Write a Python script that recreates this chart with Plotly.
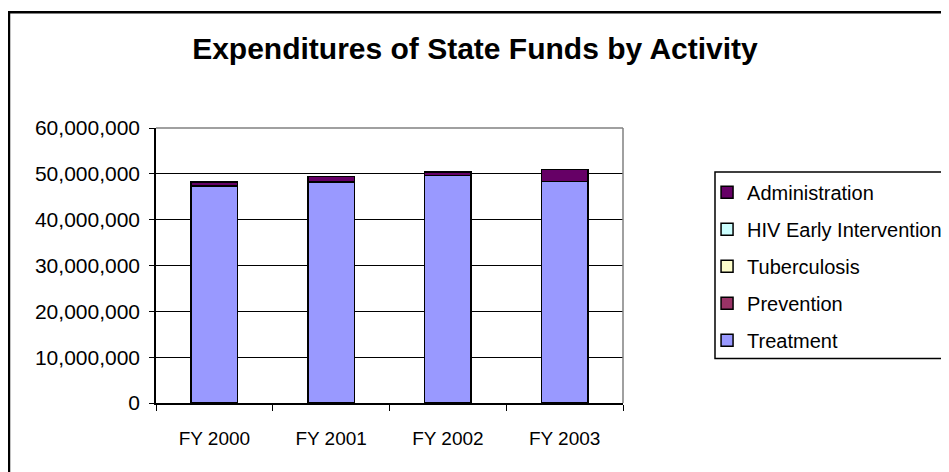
import plotly.graph_objects as go

# data
years = ['FY 2000', 'FY 2001', 'FY 2002', 'FY 2003']
treatment = [47400000, 48200000, 49600000, 48300000]
prevention = [0, 0, 0, 0]
tuberculosis = [0, 0, 0, 0]
hiv_early = [0, 0, 0, 0]
administration = [850000, 1250000, 850000, 2700000]

series = [
    ('Treatment', treatment, '#9999FF'),
    ('Prevention', prevention, '#993366'),
    ('Tuberculosis', tuberculosis, '#FFFFCC'),
    ('HIV Early Intervention', hiv_early, '#CCFFFF'),
    ('Administration', administration, '#660066'),
]

FONT = 'Liberation Sans, Arial, sans-serif'

fig = go.Figure()
for i, (name, vals, col) in enumerate(series):
    # legend lists the top of the stack first
    fig.add_trace(go.Bar(x=years, y=vals, name=name, legendgroup=name,
                         legendrank=len(series) - i,
                         marker=dict(color=col, line=dict(color='black', width=1.5))))

# page body adds an 8px offset, margins compensate for it;
# figure is a bit wider than the window so the clipped legend doesn't squeeze the plot
fig.update_layout(
    width=975, height=472,
    barmode='stack', bargap=0.6,
    paper_bgcolor='white', plot_bgcolor='white',
    margin=dict(l=148, r=360, t=120, b=76.5),
    font=dict(family=FONT, size=21, color='black'),
    title=dict(text='<b>Expenditures of State Funds by Activity</b>',
               font=dict(family=FONT, size=30, color='black'),
               xref='paper', x=0.683, xanchor='center',
               yref='container', y=0.915, yanchor='middle'),
    legend=dict(x=1.18, y=0.837, xanchor='left', yanchor='top',
                traceorder='grouped', tracegroupgap=8,
                borderwidth=0, bgcolor='rgba(0,0,0,0)',
                font=dict(family=FONT, size=20, color='black')),
)

fig.update_xaxes(showline=True, linecolor='black', linewidth=1.5,
                 ticks='outside', ticklen=6, tickcolor='black', tickson='boundaries',
                 ticklabelstandoff=17, tickfont=dict(size=19))
fig.update_yaxes(range=[0, 60000000], dtick=10000000, tickformat=',d',
                 showline=True, linecolor='black', linewidth=1.5,
                 showgrid=True, gridcolor='black', gridwidth=1,
                 ticks='outside', ticklen=5, tickcolor='black',
                 ticklabelstandoff=5, zeroline=False)
# inner half of the crossing y ticks
fig.update_layout(yaxis2=dict(overlaying='y', range=[0, 60000000], dtick=10000000,
                              ticks='inside', ticklen=5, tickcolor='black',
                              showticklabels=False, showgrid=False, zeroline=False,
                              showline=False))

# gray top/right plot edges
fig.add_shape(type='line', xref='paper', yref='paper', x0=0, x1=1, y0=1, y1=1,
              line=dict(color='#808080', width=1.5))
fig.add_shape(type='line', xref='paper', yref='paper', x0=1, x1=1, y0=0, y1=1,
              line=dict(color='#808080', width=1.5))
# legend frame
fig.add_shape(type='rect', xref='paper', yref='paper', x0=1.197, x1=1.8, y0=0.1615, y1=0.840,
              line=dict(color='black', width=1.5))
# outer chart border
fig.add_shape(type='rect', xref='paper', yref='paper', x0=-0.3148, x1=1.8, y0=-0.3, y1=1.421,
              line=dict(color='black', width=2.5), layer='below')

fig.write_html('out.html')
